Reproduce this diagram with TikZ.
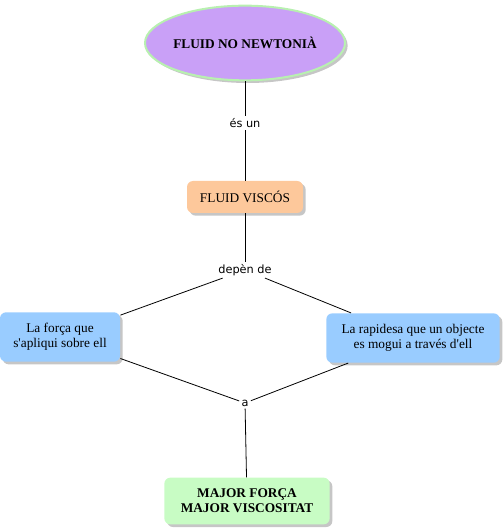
\documentclass[tikz,border=0pt]{standalone}
\usepackage{fontspec}
\setmainfont{Liberation Serif}
\newfontfamily\linkfont{DejaVu Sans}
\usetikzlibrary{shapes.geometric,shadows}
\definecolor{lilac}{HTML}{C9A0F7}
\definecolor{mint}{HTML}{B8F0B0}
\definecolor{peach}{HTML}{FDC89B}
\definecolor{skyblue}{HTML}{99CCFF}
\definecolor{palegreen}{HTML}{C8FCC4}

\begin{document}
\begin{tikzpicture}[
  x=0.75pt, y=-0.75pt,
  concept/.style={rounded corners=4.5pt, align=center, inner sep=2pt,
    font=\fontsize{10}{11.5}\selectfont,
    drop shadow={shadow xshift=2pt, shadow yshift=-2pt, fill=gray!45, opacity=1}},
  link/.style={font=\linkfont\fontsize{8.5}{10}\selectfont, inner sep=1.5pt},
  every path/.style={line width=0.6pt}
]
  \useasboundingbox (0,0) rectangle (503,530);

  \node[concept, ellipse, fill=lilac, draw=mint, line width=1.5pt, inner xsep=-1.5pt,
        minimum width=150pt, minimum height=56pt] (nonewt) at (245,43) {\textbf{FLUID NO NEWTONIÀ}};
  \node[concept, fill=peach, minimum width=87pt, minimum height=24pt] (viscos) at (245,197) {FLUID VISCÓS};
  \node[concept, fill=skyblue, minimum width=90pt, minimum height=37pt] (forca) at (60,337)
       {La força que\\ s\textquotesingle apliqui sobre ell};
  \node[concept, fill=skyblue, minimum width=130pt, minimum height=37pt] (rapid) at (413,338)
       {La rapidesa que un objecte\\ es mogui a través d\textquotesingle ell};
  \node[concept, fill=palegreen, minimum width=124pt, minimum height=35pt] (major) at (247,501)
       {\textbf{MAJOR FORÇA}\\ \textbf{MAJOR VISCOSITAT}};

  \node[link] (esun) at (245,123) {és un};
  \node[link] (depen) at (245,270) {depèn de};
  \node[link] (a) at (245,403) {a};

  \draw (nonewt) -- (esun);
  \draw (esun) -- (viscos);
  \draw (viscos) -- (depen);
  \draw (depen) -- (forca);
  \draw (depen) -- (rapid);
  \draw (forca) -- (a);
  \draw (rapid) -- (a);
  \draw (a) -- (major);
\end{tikzpicture}
\end{document}
